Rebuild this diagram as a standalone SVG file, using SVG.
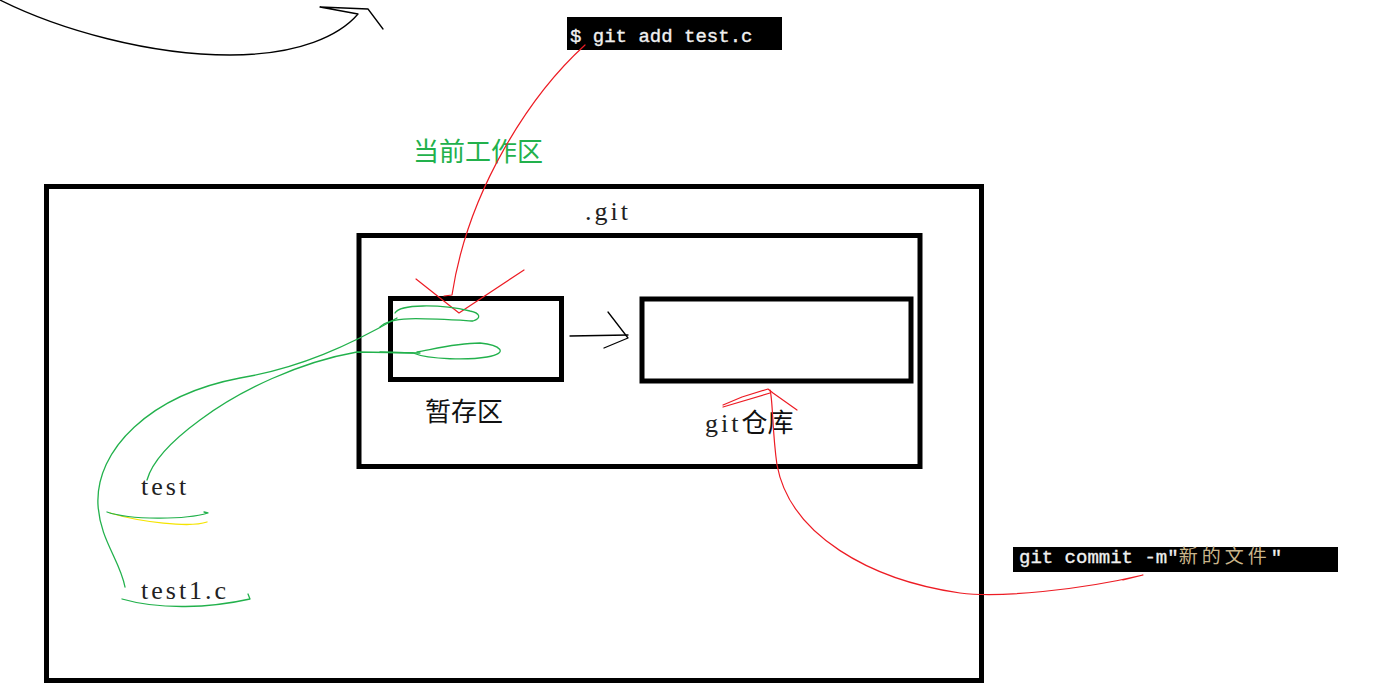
<svg xmlns="http://www.w3.org/2000/svg" width="1389" height="684" viewBox="0 0 1389 684">
<style>
.box{fill:none;stroke:#000;stroke-width:5}
.ink{fill:none;stroke-linejoin:round;stroke-linecap:round}
.blk{stroke:#000;stroke-width:1.3}
.red{stroke:#ed1c24;stroke-width:1.2}
.grn{stroke:#22b14c;stroke-width:1.3}
.yel{stroke:#f5e400;stroke-width:1.3}
.serif{font-family:"Liberation Serif","DejaVu Serif",serif;font-size:26px;letter-spacing:3px;fill:#222}
.cjk{font-family:"Noto Sans CJK SC","Noto Sans",sans-serif;font-size:26px;fill:#111}
.term{font-family:"Liberation Mono","DejaVu Sans Mono","Noto Sans CJK SC",monospace;font-size:19px;fill:#f0f0f0;stroke:#f0f0f0;stroke-width:0.35}
</style>
<rect width="1389" height="684" fill="#fff"/>

<g id="workspace">
<rect class="box" x="46.5" y="186.5" width="935" height="494"/>
<text x="413" y="161" font-family="'Noto Sans CJK SC','Noto Sans',sans-serif" font-size="26" fill="#22b14c">当前工作区</text>
</g>

<g id="git-dir">
<rect class="box" x="359" y="235.5" width="561" height="231"/>
<text class="serif" x="585" y="220">.git</text>
</g>

<g id="staging">
<rect class="box" x="390.5" y="298.5" width="171" height="81"/>
<text class="cjk" x="425" y="421">暂存区</text>
</g>

<g id="repo">
<rect class="box" x="642" y="299" width="269" height="82"/>
<text x="705" y="432"><tspan class="serif">git</tspan><tspan class="cjk">仓库</tspan></text>
</g>

<g id="file-test">
<text class="serif" x="141" y="495">test</text>
</g>
<g id="file-test1c">
<text class="serif" x="141" y="599">test1.c</text>
</g>

<g id="cmd-add">
<rect x="567" y="17" width="215" height="33" fill="#000"/>
<text class="term" x="570" y="42">$ git add test.c</text>
</g>

<g id="cmd-commit">
<rect x="1013" y="547" width="325" height="25" fill="#000"/>
<text class="term" x="1019" y="563" font-size="18">git commit -m"<tspan fill="#c9b48a" stroke="none" letter-spacing="4">新的文件</tspan>"</text>
</g>

<g id="connectors">
<!-- top black arrow -->
<path class="ink blk" d="M0,0 C60,30 150,55 230,55 C300,55 340,35 358,14 L320,7 L368,9 L383,29"/>
<!-- staging to repo -->
<path class="ink blk" d="M570,336 L628,335"/>
<path class="ink blk" d="M608,312 L628,338 L604,348"/>
<!-- git add red arrow -->
<path class="ink red" d="M585,45 C530,95 468,190 452,295 L444,296"/>
<path class="ink red" d="M416,279 L459,313 L524,270"/>
<!-- git commit red arrow -->
<path class="ink red" d="M1123,580 L1143,575 C1080,590 1000,598 960,593 C870,580 790,535 777,465 C772,430 773,400 770,390"/>
<path class="ink red" d="M723,405 L742,397 L768,389 L773,393 L797,410"/>
<path class="ink red" d="M723,407 L770,393"/>
<!-- green loops in staging -->
<path class="ink grn" d="M380,327 C390,316 420,318 473,321 C482,318 480,313 470,311 C440,304 400,304 395,313"/>
<path class="ink grn" d="M380,352 L413,353 C430,360 470,360 487,357 C510,353 500,345 480,343 C455,343 430,350 417,352"/>
<!-- green curve to test1.c -->
<path class="ink grn" d="M397,318 C350,345 300,368 240,378 C150,395 95,450 98,505 C100,540 120,560 125,587"/>
<!-- green curve to test -->
<path class="ink grn" d="M420,353 L357,352 C300,362 240,390 200,420 C170,442 152,462 147,480"/>
<!-- underline test -->
<path class="ink yel" d="M110,513 C140,522 190,528 207,522"/>
<path class="ink grn" d="M107,512 C130,520 185,520 208,513 L204,512"/>
<!-- underline test1.c -->
<path class="ink grn" d="M122,599 C160,610 210,608 250,599 L248,594"/>
</g>
</svg>
